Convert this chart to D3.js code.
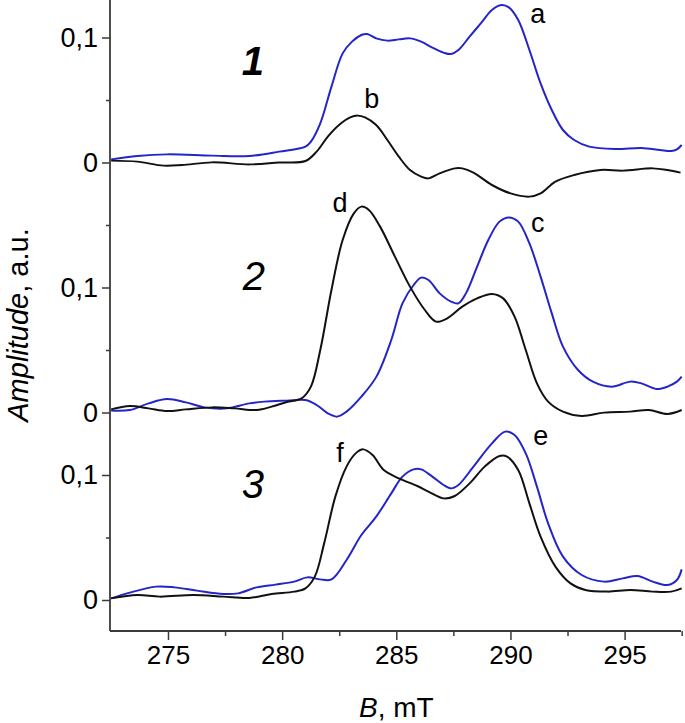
<!DOCTYPE html>
<html>
<head>
<meta charset="utf-8">
<script src="https://cdn.jsdelivr.net/npm/d3@7/dist/d3.min.js"></script>
<style>
  html, body { margin: 0; padding: 0; background: #fff; }
  svg { display: block; font-family: "Liberation Sans", Arial, sans-serif; }
</style>
</head>
<body>
<svg id="chart" width="685" height="723"></svg>
<script>
// ---- data (magnetic field B in mT, amplitude in a.u.) ----
const fieldA = [272.51,273.66,274.96,276.93,278.56,279.87,281.02,281.26,281.67,282.16,282.65,283.06,283.47,283.72,284.12,284.61,285.11,285.6,286.09,286.58,287.07,287.4,287.72,288.21,288.7,289.19,289.6,289.93,290.34,290.83,291.32,291.81,292.3,292.79,293.45,294.59,295.74,296.55,297.04,297.29,297.5];
const ampA   = [0.0025,0.0052,0.0065,0.0055,0.0052,0.0087,0.0127,0.0167,0.0313,0.0607,0.0873,0.0967,0.102,0.1028,0.0993,0.0975,0.0985,0.0993,0.0967,0.0919,0.0879,0.0868,0.09,0.1007,0.1113,0.122,0.126,0.1241,0.114,0.09,0.0633,0.042,0.026,0.018,0.0127,0.0108,0.0116,0.01,0.0092,0.0105,0.014];

const fieldB = [272.51,273.66,274.8,275.62,276.93,278.56,279.87,281.02,281.51,282.0,282.49,282.98,283.31,283.63,284.12,284.61,285.11,285.6,286.09,286.41,286.9,287.56,287.89,288.38,289.19,290.01,290.83,291.32,291.97,292.79,293.94,294.92,296.23,296.88,297.45];
const ampB   = [0.0015,0.0007,-0.0025,-0.002,0.0001,-0.0015,0,0.0012,0.0087,0.0207,0.03,0.0361,0.0375,0.0361,0.03,0.018,0.0047,-0.006,-0.0113,-0.0127,-0.0087,-0.0047,-0.0047,-0.0081,-0.018,-0.0247,-0.0273,-0.0247,-0.0153,-0.01,-0.006,-0.0065,-0.0047,-0.006,-0.0081];

const fieldC = [272.51,273.33,274.15,274.96,275.78,276.6,277.58,278.56,279.22,280.2,281.02,281.51,282.0,282.41,282.82,283.47,284.13,284.78,285.27,285.76,286.09,286.41,286.9,287.4,287.72,288.05,288.54,289.03,289.52,289.93,290.34,290.83,291.32,291.81,292.3,292.96,293.61,294.43,295.25,295.74,296.39,296.88,297.29,297.5];
const ampC   = [0.0015,0.002,0.0073,0.0108,0.0081,0.0041,0.0033,0.0073,0.0087,0.0095,0.01,0.006,-0.0007,-0.0033,0.0007,0.0127,0.0287,0.058,0.0873,0.102,0.1079,0.106,0.0953,0.0887,0.0873,0.0953,0.1167,0.138,0.1527,0.1561,0.1527,0.1353,0.1087,0.0793,0.0527,0.034,0.0247,0.0207,0.0247,0.0233,0.0188,0.0207,0.0247,0.0287];

const fieldD = [272.51,273.33,274.15,274.96,275.78,276.93,277.91,278.89,279.54,280.2,280.85,281.26,281.67,282.16,282.65,283.14,283.47,283.8,284.29,284.94,285.6,286.25,286.74,287.23,287.89,288.54,289.19,289.68,290.18,290.67,291.16,291.65,292.3,293.12,294.1,295.25,296.06,296.88,297.5];
const ampD   = [0.0025,0.0052,0.0033,0.0012,0.0025,0.0041,0.0033,0.002,0.0047,0.0084,0.0113,0.0207,0.05,0.098,0.138,0.1593,0.1647,0.162,0.1487,0.1247,0.1007,0.082,0.0727,0.0753,0.0847,0.0913,0.0948,0.0913,0.0767,0.05,0.0233,0.0087,0.0007,-0.0028,-0.0001,0.0007,0.002,-0.0012,0.002];

const fieldE = [272.51,273.33,274.47,275.29,276.27,277.42,278.07,278.89,279.71,280.53,281.1,281.67,282.16,282.82,283.47,284.12,284.78,285.27,285.76,286.09,286.58,287.07,287.4,287.72,288.38,289.19,289.77,290.18,290.67,291.16,291.65,292.3,293.12,294.1,294.92,295.57,296.23,296.88,297.29,297.5];
const ampE   = [0.0013,0.0059,0.0107,0.0101,0.0075,0.0048,0.0053,0.0101,0.0123,0.0147,0.0181,0.0165,0.0165,0.032,0.052,0.0667,0.0853,0.0987,0.1045,0.1045,0.0987,0.092,0.0893,0.092,0.1067,0.1253,0.1347,0.132,0.1173,0.0907,0.0613,0.0347,0.02,0.0147,0.0173,0.0192,0.0147,0.012,0.016,0.0245];

const fieldF = [272.51,273.66,274.64,276.11,277.42,278.56,279.54,280.53,281.02,281.43,281.84,282.33,282.82,283.22,283.55,283.96,284.45,285.11,285.92,286.41,287.07,287.56,288.21,288.87,289.52,289.85,290.34,290.83,291.32,291.97,292.63,293.28,294.26,295.25,296.23,297.04,297.5];
const ampF   = [0.0013,0.004,0.0027,0.004,0.0027,0.0016,0.0048,0.0067,0.0093,0.0187,0.0453,0.0827,0.1067,0.1173,0.1205,0.116,0.104,0.0973,0.0912,0.0867,0.0813,0.0832,0.0933,0.1067,0.1152,0.1147,0.104,0.0773,0.0507,0.0267,0.0133,0.008,0.0067,0.008,0.0067,0.0067,0.0093];

// vertical offsets of the three stacked panels (a.u.)
const panelOffsets = [0.35, 0.15, 0];
const panelNames   = ["1", "2", "3"];
const panelNameAt  = [[278.72, 0.07], [278.76, 0.098], [278.72, 0.0816]]; // [B, amplitude within panel]

const xMajorTicks = [275, 280, 285, 290, 295];
const xMinorTicks = [277.5, 282.5, 287.5, 292.5, 297.5];
const yLabeledTicks = [[0, "0"], [0.1, "0,1"]];     // per panel
const yMinorTicks   = [0.05, 0.2, 0.3, 0.4];         // in stacked units

const curves = [
  { name: "a", panel: 0, color: "#2424c8", B: fieldA, v: ampA, label: [291.2, 0.1116] },
  { name: "b", panel: 0, color: "#111111", B: fieldB, v: ampB, label: [283.93, 0.0436] },
  { name: "c", panel: 1, color: "#2424c8", B: fieldC, v: ampC, label: [291.2, 0.1444] },
  { name: "d", panel: 1, color: "#111111", B: fieldD, v: ampD, label: [282.53, 0.1604] },
  { name: "e", panel: 2, color: "#2424c8", B: fieldE, v: ampE, label: [291.33, 0.124] },
  { name: "f", panel: 2, color: "#111111", B: fieldF, v: ampF, label: [282.53, 0.1104] }
];

(function () {
  const svg = d3.select("#chart");
  const mLeft = 110, mRight = 681, mTop = 0, mBottom = 631;
  const x = d3.scaleLinear().domain([272.46, 297.47]).range([mLeft, mRight]);
  const y = d3.scaleLinear().domain([-0.0248, 0.48]).range([mBottom, mTop]);
  const axisColor = "#3a3a3a";
  const fontFam = "Liberation Sans, Arial, sans-serif";

  // x axis
  const gx = svg.append("g").attr("transform", `translate(0,${mBottom})`);
  gx.call(d3.axisBottom(x).tickValues(xMajorTicks).tickSize(9).tickPadding(6).tickFormat(d3.format("d")))
    .call(g => g.select(".domain").remove())
    .call(g => g.selectAll(".tick line").attr("stroke", axisColor).attr("stroke-width", 1.5))
    .call(g => g.selectAll(".tick text").attr("fill", "#000").attr("font-size", 26).attr("font-family", fontFam));
  gx.append("g").call(d3.axisBottom(x).tickValues(xMinorTicks).tickSize(5).tickFormat(""))
    .call(g => g.select(".domain").remove())
    .call(g => g.selectAll(".tick line").attr("stroke", axisColor).attr("stroke-width", 1.5));
  gx.append("line").attr("x1", mLeft).attr("x2", mRight).attr("y1", 0).attr("y2", 0)
    .attr("stroke", axisColor).attr("stroke-width", 1.8);

  // y axis (stacked)
  const yMajorVals = [], yMajorText = new Map();
  panelOffsets.forEach(off => yLabeledTicks.forEach(([v, t]) => {
    const key = +(v + off).toFixed(4);
    yMajorVals.push(key); yMajorText.set(key, t);
  }));
  const gy = svg.append("g").attr("transform", `translate(${mLeft},0)`);
  gy.call(d3.axisLeft(y).tickValues(yMajorVals).tickSize(8).tickPadding(4).tickFormat(d => yMajorText.get(+d.toFixed(4))))
    .call(g => g.select(".domain").remove())
    .call(g => g.selectAll(".tick line").attr("stroke", axisColor).attr("stroke-width", 1.5))
    .call(g => g.selectAll(".tick text").attr("fill", "#000").attr("font-size", 27).attr("font-family", fontFam));
  gy.append("g").call(d3.axisLeft(y).tickValues(yMinorTicks).tickSize(4).tickFormat(""))
    .call(g => g.select(".domain").remove())
    .call(g => g.selectAll(".tick line").attr("stroke", axisColor).attr("stroke-width", 1.5));
  gy.append("line").attr("x1", 0).attr("x2", 0).attr("y1", mTop).attr("y2", mBottom)
    .attr("stroke", axisColor).attr("stroke-width", 1.8);

  // curves
  const line = d3.line().curve(d3.curveCatmullRom.alpha(0.5));
  curves.forEach(c => {
    const off = panelOffsets[c.panel];
    const pts = c.B.map((b, i) => [x(b), y(c.v[i] + off)]);
    svg.append("path").attr("d", line(pts)).attr("fill", "none")
      .attr("stroke", c.color).attr("stroke-width", 2).attr("stroke-linejoin", "round");
    svg.append("text").attr("x", x(c.label[0])).attr("y", y(c.label[1] + off))
      .attr("text-anchor", "middle").attr("font-size", 27).attr("fill", "#000").text(c.name);
  });

  // panel numbers
  panelNames.forEach((n, i) => {
    svg.append("text").attr("x", x(panelNameAt[i][0])).attr("y", y(panelNameAt[i][1] + panelOffsets[i]))
      .attr("text-anchor", "middle").attr("font-size", 40).attr("font-style", "italic")
      .attr("font-weight", i === 0 ? "bold" : "normal").attr("fill", "#000").text(n);
  });

  // axis titles
  const xt = svg.append("text").attr("x", x(285.0)).attr("y", 717).attr("text-anchor", "middle")
    .attr("font-size", 28).attr("fill", "#000");
  xt.append("tspan").attr("font-style", "italic").text("B");
  xt.append("tspan").text(", mT");

  const yt = svg.append("text").attr("transform", `translate(28,${y(0.22)}) rotate(-90)`)
    .attr("text-anchor", "middle").attr("font-size", 29).attr("fill", "#000");
  yt.append("tspan").attr("font-style", "italic").text("Amplitude");
  yt.append("tspan").text(", a.u.");
})();
</script>
</body>
</html>
